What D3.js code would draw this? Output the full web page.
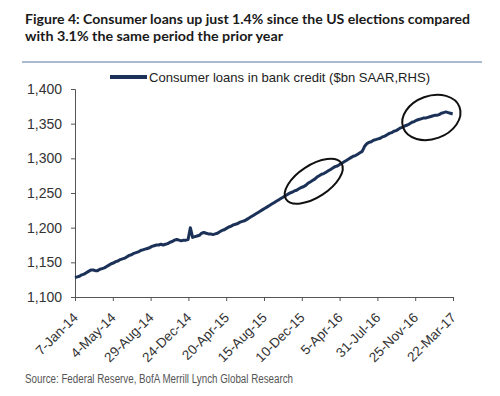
<!DOCTYPE html>
<html><head><meta charset="utf-8">
<script src="https://cdn.jsdelivr.net/npm/d3@7"></script>
<style>
html,body{margin:0;padding:0;background:#fff;}
svg{display:block;}
</style></head>
<body>
<script>
// ---- data ----
const startDate = "2014-01-07";          // first weekly observation
const seriesName = "Consumer loans in bank credit ($bn SAAR,RHS)";
const loans = [
1128,1129,1130,1132,1133,1135,1137,1139,1139,1138,
1138,1140,1141,1142,1144,1146,1148,1149,1151,1152,
1154,1155,1156,1158,1160,1161,1163,1164,1165,1167,
1168,1169,1170,1171,1173,1174,1175,1175,1176,1175,
1176,1177,1179,1180,1182,1183,1182,1181,1182,1182,
1183,1200,1186,1187,1188,1189,1192,1193,1192,1191,
1191,1190,1191,1192,1194,1196,1197,1199,1201,1202,
1204,1205,1206,1208,1209,1210,1212,1214,1216,1218,
1220,1222,1224,1226,1228,1230,1232,1234,1236,1238,
1240,1242,1244,1246,1248,1250,1251,1253,1254,1256,
1258,1259,1261,1264,1266,1268,1270,1273,1275,1277,
1278,1280,1282,1284,1286,1288,1289,1291,1293,1295,
1297,1299,1301,1303,1304,1306,1308,1310,1317,1321,
1323,1324,1326,1327,1328,1329,1331,1332,1334,1336,
1337,1339,1340,1342,1344,1345,1347,1348,1350,1352,
1353,1355,1356,1357,1358,1358,1359,1360,1361,1362,
1362,1363,1365,1366,1367,1366,1365,1364
];
const xTickLabels = ["7-Jan-14","4-May-14","29-Aug-14","24-Dec-14","20-Apr-15","15-Aug-15",
  "10-Dec-15","5-Apr-16","31-Jul-16","25-Nov-16","22-Mar-17"];
const yTicks = [1100,1150,1200,1250,1300,1350,1400];
const titleLines = ["Figure 4: Consumer loans up just 1.4% since the US elections compared",
  "with 3.1% the same period the prior year"];
const sourceText = "Source: Federal Reserve, BofA Merrill Lynch Global Research";
// annotation ellipses: [date at centre, value at centre]
const highlights = [["2016-01-16", 1267], ["2017-01-14", 1359]];

// ---- chart ----
const W = 500, H = 396;
const parse = d3.timeParse("%Y-%m-%d");
const parseTick = d3.timeParse("%d-%b-%y");
const t0 = parse(startDate);
const data = loans.map((v,i)=>({date:d3.timeDay.offset(t0, 7*i), value:v}));
const tickDates = xTickLabels.map(s=>parseTick(s));

const svg = d3.select("body").append("svg").attr("width",W).attr("height",H);

const x = d3.scaleTime().domain([tickDates[0], tickDates[tickDates.length-1]]).range([75, 453]);
const y = d3.scaleLinear().domain([1100,1400]).range([297, 89]);

// title
const title = svg.append("g").attr("font-family","Lato, 'Open Sans', sans-serif")
  .attr("font-weight","bold").attr("font-size",14).attr("fill","#1a1a1a");
title.append("text").attr("x",25).attr("y",23.5).attr("textLength",445)
  .attr("lengthAdjust","spacingAndGlyphs").text(titleLines[0]);
title.append("text").attr("x",25).attr("y",40.5).attr("textLength",258)
  .attr("lengthAdjust","spacingAndGlyphs").text(titleLines[1]);

// top rule
svg.append("line").attr("x1",22).attr("x2",482).attr("y1",62).attr("y2",62)
  .attr("stroke","#8ea3c2").attr("stroke-width",1.5);

// legend
svg.append("line").attr("x1",110).attr("x2",147).attr("y1",77).attr("y2",77)
  .attr("stroke","#1b3158").attr("stroke-width",4);
svg.append("text").attr("x",149).attr("y",82).attr("font-family","'Liberation Sans', Arial, sans-serif")
  .attr("font-size",13).attr("fill","#222").attr("textLength",281)
  .attr("lengthAdjust","spacingAndGlyphs").text(seriesName);

// axes
const yAxis = d3.axisLeft(y).tickValues(yTicks).tickSize(4).tickPadding(9)
  .tickFormat(d3.format(","));
const gy = svg.append("g").attr("transform","translate(75,0)").call(yAxis);
gy.select(".domain").attr("stroke","#555").attr("stroke-width",1);
gy.selectAll(".tick line").attr("stroke","#555");
gy.selectAll("text").attr("font-family","'Liberation Sans', Arial, sans-serif")
  .attr("font-size",14).attr("fill","#333");

const xAxis = d3.axisBottom(x).tickValues(tickDates).tickSize(4).tickSizeOuter(0)
  .tickFormat((d,i)=>xTickLabels[i]);
const gx = svg.append("g").attr("transform","translate(0,297)").call(xAxis);
gx.select(".domain").attr("stroke","#555").attr("stroke-width",1);
gx.selectAll(".tick line").attr("stroke","#555");
gx.selectAll("text").attr("font-family","'Liberation Sans', Arial, sans-serif")
  .attr("font-size",13.5).attr("fill","#333")
  .attr("text-anchor","end").attr("dy","0.35em").attr("y",0)
  .attr("transform","translate(0,18) rotate(-45)");

// line
const line = d3.line().x(d=>x(d.date)).y(d=>y(d.value));
svg.append("path").datum(data).attr("d",line).attr("fill","none")
  .attr("stroke","#1b3158").attr("stroke-width",3).attr("stroke-linejoin","round");

// ellipses
const ell = [{rx:33, ry:16, rot:-33},{rx:30, ry:21.5, rot:-20}];
highlights.forEach((h,i)=>{
  const cx = x(parse(h[0])), cy = y(h[1]);
  svg.append("ellipse").attr("cx",0).attr("cy",0).attr("rx",ell[i].rx).attr("ry",ell[i].ry)
    .attr("transform",`translate(${cx},${cy}) rotate(${ell[i].rot})`)
    .attr("fill","none").attr("stroke","#111").attr("stroke-width",2);
});

// source
svg.append("text").attr("x",25).attr("y",383).attr("font-family","'Liberation Sans Narrow', 'Liberation Sans', Arial, sans-serif")
  .attr("font-size",12).attr("fill","#555").attr("textLength",268).attr("lengthAdjust","spacingAndGlyphs")
  .text(sourceText);
</script>
</body></html>
